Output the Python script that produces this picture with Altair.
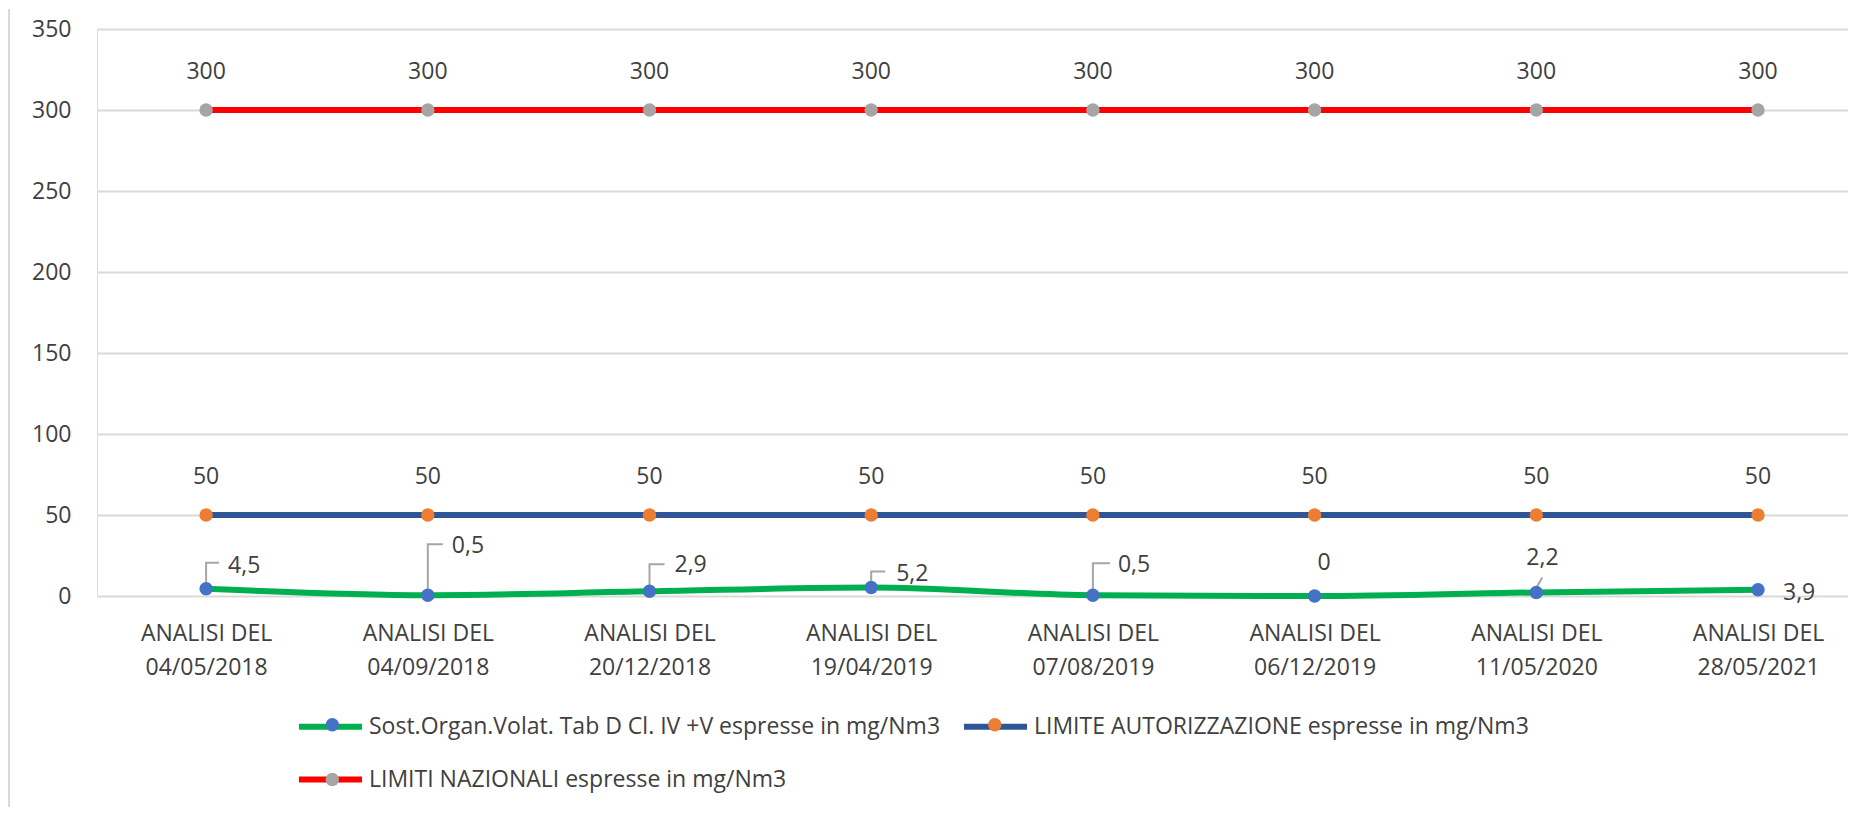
import altair as alt
import pandas as pd

# ---- data ----
dates = ["04/05/2018", "04/09/2018", "20/12/2018", "19/04/2019",
         "07/08/2019", "06/12/2019", "11/05/2020", "28/05/2021"]
categories = ["ANALISI DEL " + d for d in dates]

S1 = "Sost.Organ.Volat. Tab D Cl. IV +V espresse in mg/Nm3"
S2 = "LIMITE AUTORIZZAZIONE espresse in mg/Nm3"
S3 = "LIMITI NAZIONALI espresse in mg/Nm3"
series_names = [S1, S2, S3]

sost_values = [4.5, 0.5, 2.9, 5.2, 0.5, 0, 2.2, 3.9]
limite_autorizzazione = [50, 50, 50, 50, 50, 50, 50, 50]
limiti_nazionali = [300, 300, 300, 300, 300, 300, 300, 300]

# ---- styling (pixel offsets of the Excel data labels / leader lines) ----
line_colors = ["#00B050", "#2F5597", "#FF0000"]
point_colors = ["#4472C4", "#ED7D31", "#A5A5A5"]
label_dx = [22, 24, 25, 25, 25, 3, -10, 25]
label_dy = [-23, -49, -26, -14, -30, -33, -34, 3]
leader_paths = {
    0: [(0, 0), (0, -26), (13, -26)],
    1: [(0, 0), (0, -51), (15, -51)],
    2: [(0, 0), (0, -27), (15, -27)],
    3: [(0, 0), (0, -16), (14, -16)],
    4: [(0, 0), (0, -32), (17, -32)],
    6: [(-1, -3), (6, -15)],
}

PLOT_W = 1751
PLOT_H = 567
Y_MAX = 350
PX = Y_MAX / PLOT_H  # data units per pixel

FONT = "Open Sans"
TXT = "#404040"
FS = 23


def fmt(v):
    return f"{v:g}".replace(".", ",")


rows = []
for name, vals in zip(series_names, [sost_values, limite_autorizzazione, limiti_nazionali]):
    for i, (c, v) in enumerate(zip(categories, vals)):
        rows.append({"cat": c, "series": name, "value": v, "lbl": fmt(v),
                     "ldx": label_dx[i], "ldy": label_dy[i]})
df = pd.DataFrame(rows)

lead_rows = []
for i, path in leader_paths.items():
    for k, (ox, oy) in enumerate(path):
        lead_rows.append({"cat": categories[i], "value": sost_values[i], "lid": i,
                          "k": k, "ox": ox, "oy": oy})
df_lead = pd.DataFrame(lead_rows)

x_enc = alt.X(
    "cat:N", sort=categories,
    scale=alt.Scale(type="point", padding=0.449, align=0.548),
    axis=alt.Axis(title=None, labelAngle=0, ticks=False, domain=False, grid=False,
                  labelExpr="[slice(datum.label,0,11), slice(datum.label,12)]",
                  labelFont=FONT, labelFontSize=FS, labelColor=TXT,
                  labelLineHeight=34, labelPadding=26, labelLimit=400),
)
y_enc = alt.Y(
    "value:Q",
    scale=alt.Scale(domain=[0, Y_MAX], nice=False, zero=True),
    axis=alt.Axis(title=None, values=[0, 50, 100, 150, 200, 250, 300, 350],
                  ticks=False, domain=False, grid=True, gridColor="#D9D9D9", gridWidth=2,
                  labelFont=FONT, labelFontSize=FS, labelColor=TXT, labelPadding=26),
)
x_plain = alt.X("cat:N", sort=categories)

base = alt.Chart(df)

lines = base.mark_line(strokeWidth=6, interpolate="monotone").encode(
    x=x_enc, y=y_enc,
    stroke=alt.Stroke(
        "series:N", sort=series_names,
        scale=alt.Scale(range=line_colors),
        legend=alt.Legend(title=None, orient="none", legendX=199, legendY=663,
                          columns=2, direction="horizontal",
                          symbolType="stroke", symbolSize=3969, symbolStrokeWidth=6,
                          labelFont=FONT, labelFontSize=FS, labelColor=TXT,
                          labelLimit=1000, labelOffset=4, columnPadding=11,
                          rowPadding=6, padding=0),
    ),
)

leaders = alt.Chart(df_lead).transform_calculate(
    ly=f"datum.value - datum.oy * {PX}"
).mark_line(stroke="#A6A6A6", strokeWidth=2).encode(
    x=x_plain,
    y=alt.Y("ly:Q", title=None),
    xOffset=alt.XOffset("ox:Q", scale=None),
    detail="lid:N",
    order="k:Q",
)

points = base.mark_circle(size=180, opacity=1).encode(
    x=x_plain,
    y=alt.Y("value:Q", title=None),
    fill=alt.Fill(
        "series:N",
        scale=alt.Scale(domain=series_names, range=point_colors),
        legend=alt.Legend(title=None, orient="none", legendX=223.8, legendY=684,
                          columns=2, direction="horizontal",
                          symbolType="circle", symbolSize=180, symbolStrokeWidth=0,
                          labelExpr="' '",
                          labelFont=FONT, labelFontSize=FS, labelColor="transparent",
                          labelLimit=1000, labelOffset=0, columnPadding=639.5,
                          rowPadding=31, padding=0),
    ),
)

limit_labels = base.mark_text(font=FONT, fontSize=FS, color=TXT, dy=-38,
                              baseline="middle", align="center").encode(
    x=x_plain,
    y=alt.Y("value:Q", title=None),
    text="lbl:N",
).transform_filter(alt.datum.series != S1)

sost_labels = base.transform_filter(alt.datum.series == S1).transform_calculate(
    ly=f"datum.value - datum.ldy * {PX}"
).mark_text(font=FONT, fontSize=FS, color=TXT, baseline="middle", align="left").encode(
    x=x_plain,
    y=alt.Y("ly:Q", title=None),
    xOffset=alt.XOffset("ldx:Q", scale=None),
    text="lbl:N",
)

frame = alt.Chart(pd.DataFrame({"f": [0]})).mark_rule(color="#D9D9D9", strokeWidth=2).encode(
    x=alt.value(-88), y=alt.value(-20), y2=alt.value(778),
)

chart = alt.layer(frame, lines, leaders, points, limit_labels, sost_labels).properties(
    width=PLOT_W, height=PLOT_H, padding=0,
).configure_view(stroke=None).configure(background="white")

chart.save("out.html", embed_options={"renderer": "svg", "actions": False})
